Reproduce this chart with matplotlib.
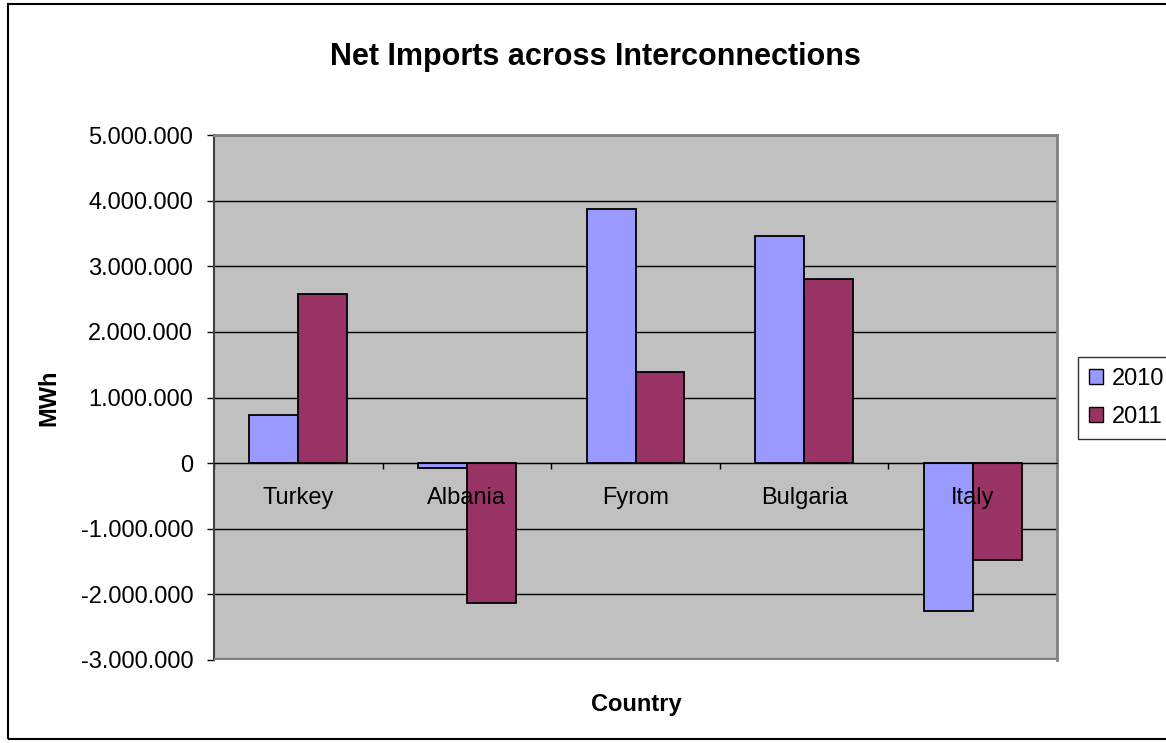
import matplotlib.pyplot as plt
import matplotlib.patches as mpatches
import matplotlib.ticker as mticker
import numpy as np

plt.rcParams['font.family'] = ['Liberation Sans', 'DejaVu Sans']

countries = ['Turkey', 'Albania', 'Fyrom', 'Bulgaria', 'Italy']
imports_2010 = [730000, -80000, 3870000, 3460000, -2250000]
imports_2011 = [2580000, -2130000, 1390000, 2800000, -1470000]
series_names = ['2010', '2011']
colors = ['#9999FF', '#993366']

FS = 17
W, H = 1166, 743


def dotted(v, pos=None):
    s = f'{abs(int(v)):,}'.replace(',', '.')
    return '-' + s if v < 0 else s


fig = plt.figure(figsize=(W / 100, H / 100), dpi=100)
ax = fig.add_axes([214 / W, 1 - 660 / H, (1057 - 214) / W, (660 - 135) / H])
ax.set_facecolor('#C0C0C0')

x = np.arange(len(countries))
w = 0.29
for i, (vals, c) in enumerate(zip([imports_2010, imports_2011], colors)):
    ax.bar(x + (i - 0.5) * w, vals, width=w, color=c, edgecolor='black',
           linewidth=1.3, zorder=2, label=series_names[i])

ax.set_xlim(-0.5, len(countries) - 0.5)
ax.set_ylim(-3000000, 5000000)
ax.yaxis.set_major_locator(mticker.MultipleLocator(1000000))
ax.yaxis.set_major_formatter(mticker.FuncFormatter(dotted))
for yv in np.arange(-3000000, 5000001, 1000000):
    ax.axhline(yv, color='black', lw=1, zorder=1)

# category axis at zero, ticks between the groups
ax.spines['bottom'].set_position(('data', 0))
ax.spines['bottom'].set_color('black')
ax.spines['bottom'].set_zorder(3)
ax.set_xticks(x)
ax.set_xticklabels([])
ax.tick_params(axis='x', length=0)
ax.set_xticks(np.arange(-0.5, len(countries), 1.0), minor=True)
ax.tick_params(axis='x', which='minor', length=4, direction='out', width=1, color='black')
for i, name in enumerate(countries):
    ax.annotate(name, xy=(i, 0), xytext=(0, -35), textcoords='offset pixels',
                ha='center', va='center', fontsize=FS, zorder=5)

for side in ['top', 'right']:
    ax.spines[side].set_color('#808080')
    ax.spines[side].set_linewidth(2)
ax.spines['left'].set_color('#404040')
ax.spines['left'].set_linewidth(1.5)
ax.axhline(-3000000, color='#808080', lw=3, zorder=3)

ax.tick_params(axis='y', length=5, width=1, labelsize=FS, color='black', pad=10)

fig.text(49 / W, 1 - 398 / H, 'MWh', ha='center', va='center', rotation=90,
         fontsize=FS, fontweight='bold')
fig.text(636 / W, 1 - 705 / H, 'Country', ha='center', va='center',
         fontsize=FS, fontweight='bold')
fig.text(595 / W, 1 - 57 / H, 'Net Imports across Interconnections',
         ha='center', va='center', fontsize=22, fontweight='bold')

handles = [mpatches.Patch(facecolor=c, edgecolor='black', label=n)
           for c, n in zip(colors, series_names)]
leg = fig.legend(handles=handles, loc='upper left',
                 bbox_to_anchor=(1078 / W, 1 - 357 / H), fontsize=FS,
                 frameon=True, fancybox=False, handlelength=0.6, handleheight=0.6,
                 handletextpad=0.4, borderpad=0.45, labelspacing=0.7, borderaxespad=0)
leg.get_frame().set_edgecolor('black')
leg.get_frame().set_linewidth(1)

fig.add_artist(mpatches.Rectangle((8 / W, 4 / H), (W + 10) / W, (H - 8) / H,
                                  transform=fig.transFigure, fill=False,
                                  edgecolor='black', lw=1.5))

fig.savefig('out.png', dpi=100)
